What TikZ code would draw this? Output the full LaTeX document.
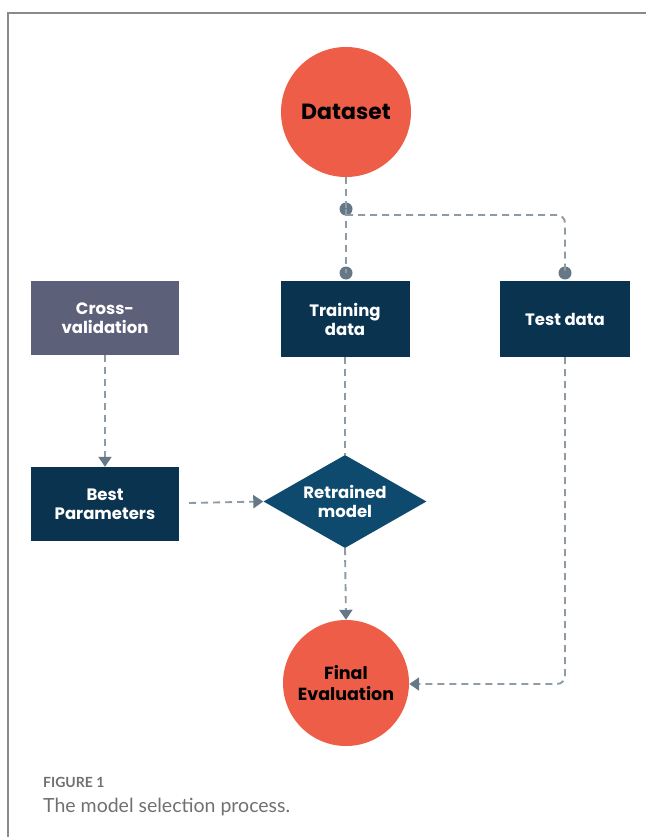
\documentclass[tikz,border=0pt]{standalone}
\usepackage{fontspec}
\setmainfont{Poppins}
\newfontfamily\capfont{Lato}
\usetikzlibrary{shapes.geometric,arrows.meta}
\definecolor{salmon}{HTML}{EE5D47}
\definecolor{navy}{HTML}{0A3350}
\definecolor{navyb}{HTML}{0D4A6E}
\definecolor{slate}{HTML}{5C6079}
\definecolor{dashc}{HTML}{8E9BA4}
\definecolor{tipc}{HTML}{667885}
\definecolor{framec}{HTML}{8A8A8A}
\definecolor{capc}{HTML}{707070}
\tikzset{
  circnode/.style={circle,fill=salmon,inner sep=0pt,font=\bfseries,text=black,align=center},
  boxnode/.style={rectangle,fill=navy,inner sep=0pt,text=white,font=\bfseries\fontsize{16.5}{19}\selectfont,align=center,minimum width=129pt,minimum height=76pt},
  flow/.style={draw=dashc,line width=1.9pt,dash pattern=on 7pt off 5pt},
  arr/.style={flow,-{Triangle[length=10pt,width=13pt,fill=tipc,color=tipc]}},
  dotnode/.style={circle,fill=tipc,inner sep=0pt,minimum size=13pt}
}
\begin{document}
\begin{tikzpicture}[x=1pt,y=-1pt]
\useasboundingbox (0,0) rectangle (646,837);
\draw[framec,line width=1.8pt] (8,837) -- (8,13) -- (646,13);
% nodes
\node[circnode,minimum size=130pt,font=\bfseries\fontsize{22}{26}\selectfont] (ds) at (346,112) {Dataset};
\node[boxnode] (tr) at (345,319) {Training\\data};
\node[boxnode,minimum width=130pt] (te) at (565,319) {Test data};
\node[boxnode,fill=slate,minimum width=148pt,minimum height=74pt] (cv) at (105,318) {Cross-\\validation};
\node[boxnode,minimum width=148pt,minimum height=74pt] (bp) at (105,504) {Best\\Parameters};
\node[diamond,fill=navyb,inner sep=0pt,minimum width=163pt,minimum height=93pt] (rm) at (345,501.5) {};
\node[text=white,font=\bfseries\fontsize{16.5}{19}\selectfont,align=center,inner sep=0pt] (rmt) at (rm.center) {Retrained\\model};
\node[circnode,minimum size=126pt,font=\bfseries\fontsize{17.5}{21}\selectfont] (fe) at (346,683) {Final\\Evaluation};
\node[dotnode] (j) at (346,209) {};
\node[dotnode] (jt) at (346,273) {};
\node[dotnode] (jte) at (565,273) {};
\coordinate (jr) at (346,215);
% connectors
\draw[flow] (ds.south) -- (j.center);
\draw[flow] (j.center) -- (jt.center);
\draw[flow,rounded corners=8pt] (jr) -- (565,215) -- (jte.center);
\draw[flow] (tr.south) -- (rm.north);
\draw[arr] (cv.south) -- (bp.north);
\draw[arr] (bp.east) ++(10,-1) -- (rm.west);
\draw[arr] (rm.south) -- (fe.north);
\draw[arr,rounded corners=8pt] (te.south) -- (565,684) -- (fe.east |- 0,684);
% caption
\node[anchor=base west,inner sep=0pt,text=capc,font=\capfont\bfseries\fontsize{14}{16}\selectfont] (c1) at (43,787) {FIGURE 1};
\node[anchor=base west,inner sep=0pt,text=capc,font=\capfont\fontsize{19.5}{22}\selectfont] (c2) at (43,812) {The model selection process.};
\end{tikzpicture}
\end{document}
